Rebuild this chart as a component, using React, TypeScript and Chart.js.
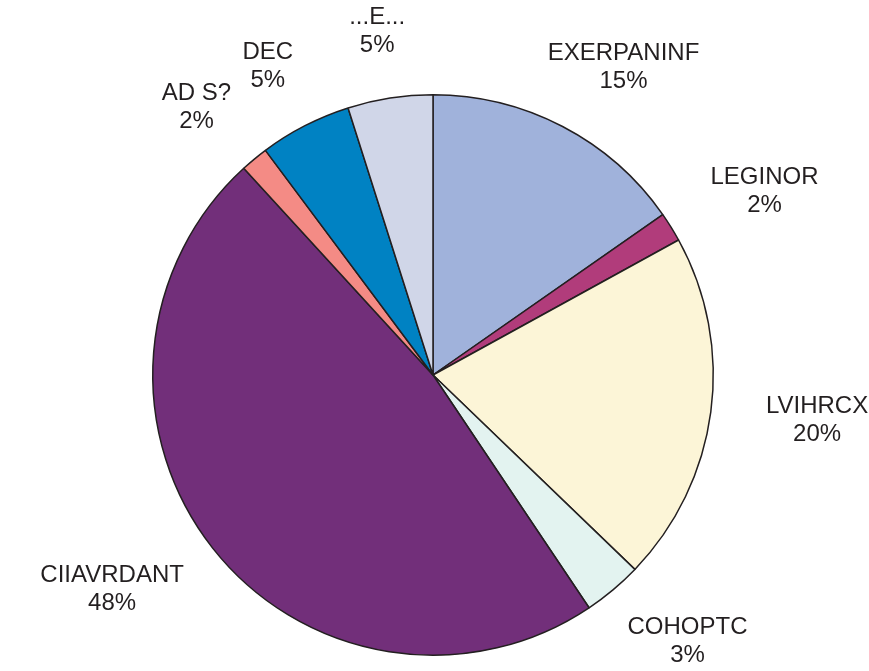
import React, { useEffect, useRef } from "react";
import { Chart, registerables } from "chart.js";

Chart.register(...registerables);

const categories = ["EXERPANINF", "LEGINOR", "LVIHRCX", "COHOPTC", "CIIAVRDANT", "AD S?", "DEC", "...E..."];
const values = [15.3, 1.7, 20.2, 3.4, 47.6, 1.6, 5.3, 4.9];
const colors = ["#A0B2DB", "#B13C7B", "#FCF5D7", "#E3F3F0", "#722F7A", "#F48B85", "#0082C3", "#D0D6E8"];

const W = 869;
const H = 671;
const FONT = "24px 'Liberation Sans', Arial, sans-serif";
const TEXT_COLOR = "#231F20";
const LINE_H = 28;

const labelPlugin = {
  id: "outsideLabels",
  afterDatasetsDraw(chart: any) {
    const ctx = chart.ctx;
    const meta = chart.getDatasetMeta(0);
    const data = chart.data.datasets[0].data as number[];
    const total = data.reduce((a: number, b: number) => a + b, 0);
    ctx.save();
    ctx.font = FONT;
    ctx.fillStyle = TEXT_COLOR;
    ctx.textAlign = "center";
    ctx.textBaseline = "middle";
    meta.data.forEach((arc: any, i: number) => {
      const { x: cx, y: cy, startAngle, endAngle, outerRadius } = arc.getProps(
        ["x", "y", "startAngle", "endAngle", "outerRadius"],
        true
      );
      const mid = (startAngle + endAngle) / 2;
      const dx = Math.cos(mid);
      const dy = Math.sin(mid);
      const lines = [chart.data.labels[i] as string, Math.round((data[i] * 100) / total) + "%"];
      const w = Math.max(...lines.map((l) => ctx.measureText(l).width));
      const h = LINE_H * lines.length;
      const gapX = outerRadius * 0.2;
      const gapY = outerRadius * 0.14;
      let x = cx + dx * (outerRadius + gapX + w / 2);
      let y = cy + dy * (outerRadius + gapY + h / 2);
      const margin = 2;
      if (y + h / 2 > H - margin) y = H - margin - h / 2;
      if (y - h / 2 < margin) y = margin + h / 2;
      lines.forEach((l, k) => {
        ctx.fillText(l, x, y - h / 2 + LINE_H * (k + 0.5));
      });
    });
    ctx.restore();
  },
};

export default function App() {
  const ref = useRef<HTMLCanvasElement>(null);
  useEffect(() => {
    if (!ref.current) return;
    const chart = new Chart(ref.current, {
      type: "pie",
      data: {
        labels: categories,
        datasets: [
          {
            data: values,
            backgroundColor: colors,
            borderColor: "#231F20",
            borderWidth: 1.5,
          },
        ],
      },
      options: {
        responsive: false,
        animation: false,
        layout: { padding: { top: 94, bottom: 15, left: 152, right: 155 } },
        plugins: {
          legend: { display: false },
          tooltip: { enabled: false },
        },
      },
      plugins: [labelPlugin],
    });
    return () => chart.destroy();
  }, []);
  return (
    <div style={{ position: "fixed", left: 0, top: 0, width: W, height: H, background: "#fff" }}>
      <canvas ref={ref} width={W} height={H} style={{ width: W, height: H }} />
    </div>
  );
}
